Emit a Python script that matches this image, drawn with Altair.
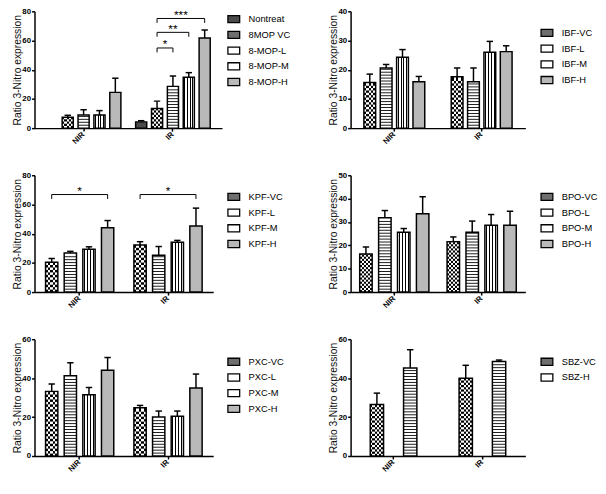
import altair as alt
import pandas as pd

FONT = "Liberation Sans"
CONDS = ["NIR", "IR"]
YTITLE = "Ratio 3-Nitro expression"

# ---- panel 1 : 8-MOP ----
mop_groups = ["Nontreat", "8MOP VC", "8-MOP-L", "8-MOP-M", "8-MOP-H"]
mop_patterns = ["cross", "checker", "hline", "vline", "diag"]
mop_nir = [None, 7.5, 9.0, 9.0, 24.5]
mop_nir_err = [None, 1.3, 3.6, 3.0, 9.7]
mop_ir = [4.3, 13.5, 28.6, 34.8, 61.8]
mop_ir_err = [0.8, 5.0, 7.1, 3.2, 5.4]
mop_sig_cond = ["IR", "IR", "IR"]
mop_sig_from = ["8MOP VC", "8MOP VC", "8MOP VC"]
mop_sig_to = ["8-MOP-L", "8-MOP-M", "8-MOP-H"]
mop_sig_y = [54.9, 65.6, 75.1]
mop_sig_label = ["*", "**", "***"]

# ---- panel 2 : IBF ----
ibf_groups = ["IBF-VC", "IBF-L", "IBF-M", "IBF-H"]
ibf_nir = [15.6, 20.6, 24.3, 15.9]
ibf_nir_err = [2.9, 1.2, 2.6, 1.8]
ibf_ir = [17.6, 15.9, 26.0, 26.2]
ibf_ir_err = [3.0, 4.7, 3.7, 2.0]

# ---- panel 3 : KPF ----
kpf_groups = ["KPF-VC", "KPF-L", "KPF-M", "KPF-H"]
kpf_nir = [20.5, 26.7, 29.4, 44.1]
kpf_nir_err = [2.5, 1.2, 1.6, 4.9]
kpf_ir = [32.3, 25.2, 34.1, 45.2]
kpf_ir_err = [2.2, 6.0, 1.3, 12.3]
kpf_sig_cond = ["NIR", "IR"]
kpf_sig_from = ["KPF-VC", "KPF-VC"]
kpf_sig_to = ["KPF-H", "KPF-H"]
kpf_sig_y = [66.8, 66.8]
kpf_sig_label = ["*", "*"]

# ---- panel 4 : BPO ----
bpo_groups = ["BPO-VC", "BPO-L", "BPO-M", "BPO-H"]
bpo_nir = [16.3, 31.8, 25.6, 33.5]
bpo_nir_err = [3.0, 3.1, 1.6, 7.3]
bpo_ir = [21.6, 25.6, 28.6, 28.6]
bpo_ir_err = [2.0, 4.8, 4.6, 6.0]

# ---- panel 5 : PXC ----
pxc_groups = ["PXC-VC", "PXC-L", "PXC-M", "PXC-H"]
pxc_nir = [33.2, 41.2, 31.5, 44.1]
pxc_nir_err = [3.8, 6.7, 3.7, 6.5]
pxc_ir = [24.8, 20.1, 20.4, 34.9]
pxc_ir_err = [1.2, 3.0, 2.7, 7.2]

# ---- panel 6 : SBZ ----
sbz_groups = ["SBZ-VC", "SBZ-H"]
sbz_patterns = ["checker", "hline"]
sbz_nir = [26.5, 45.2]
sbz_nir_err = [5.8, 9.4]
sbz_ir = [39.9, 48.6]
sbz_ir_err = [6.7, 0.7]

four_patterns = ["checker", "hline", "vline", "diag"]

FLAT = {"cross": "#4a4a4a", "checker": "#6e6e6e", "hline": "#ffffff",
        "vline": "#ffffff", "diag": "#b9b9b9"}
RECT = "M-1,-0.6H1V0.6H-1Z"


def stripes(n, frac, fg="black", bg="white"):
    stops = [{"offset": 0, "color": bg}]
    for i in range(n):
        c = (i + 0.5) / n
        a, b = round(max(c - frac / 2, 0), 4), round(min(c + frac / 2, 1), 4)
        stops += [{"offset": a, "color": bg}, {"offset": a, "color": fg},
                  {"offset": b, "color": fg}, {"offset": b, "color": bg}]
    stops.append({"offset": 1, "color": bg})
    return {"gradient": "linear", "x1": 0, "y1": 0, "x2": 1, "y2": 0, "stops": stops}


def checker(n, invert=False):
    stops = []
    for i in range(n):
        col = "black" if ((i % 2 == 0) != invert) else "white"
        stops += [{"offset": round(i / n, 4), "color": col},
                  {"offset": round((i + 1) / n, 4), "color": col}]
    return {"gradient": "linear", "x1": 0, "y1": 0, "x2": 1, "y2": 0, "stops": stops}


def panel(groups, patterns, nir, nir_err, ir, ir_err, ymax, ystep, width,
          pi, po, q, legend_x, legend_y, sig=None, height=119):
    rows = []
    for cond, vals, errs in (("NIR", nir, nir_err), ("IR", ir, ir_err)):
        for g, p, v, e in zip(groups, patterns, vals, errs):
            if v is None:
                continue
            rows.append(dict(cond=cond, group=g, pattern=p, value=v, top=v + e))
    df = pd.DataFrame(rows)

    n = len(groups)
    step = width / (2 - pi + 2 * po)
    band = step * (1 - pi)
    slot = band / (n - q)
    bar_px = slot * (1 - q)
    upx = ymax / height

    xaxis = alt.Axis(title=None, labelAngle=-45, labelAlign="right",
                     labelBaseline="middle", labelPadding=2, tickSize=3)
    yaxis = alt.Axis(title=YTITLE, values=list(range(0, ymax + 1, ystep)),
                     labelPadding=1, titlePadding=-1)
    x = alt.X("cond:N", scale=alt.Scale(domain=CONDS, paddingInner=pi,
                                        paddingOuter=po), axis=xaxis)
    xo = alt.XOffset("group:N", scale=alt.Scale(domain=groups, paddingInner=q,
                                                paddingOuter=0))
    ysc = alt.Scale(domain=[0, ymax], nice=False)

    def Y(f):
        return alt.Y(f, type="quantitative", scale=ysc, axis=yaxis)

    base = alt.Chart(df)
    legend = alt.Legend(
        title=None, orient="none", legendX=legend_x, legendY=legend_y,
        symbolSize=144, symbolType=RECT, padding=0,
        labelFont=FONT, labelFontSize=9.5, labelColor="black", labelOffset=8,
        rowPadding=2, symbolStrokeColor="black", symbolStrokeWidth=1.3,
        symbolOpacity=1,
    )
    fill_scale = alt.Scale(domain=groups, range=[FLAT[p] for p in patterns])
    layers = [base.mark_bar(opacity=1).encode(
        x=x, xOffset=xo, y=Y("value"),
        fill=alt.Fill("group:N", scale=fill_scale, legend=legend))]

    # vertical stripes
    layers.append(base.transform_filter("datum.pattern === 'vline'").mark_bar(
        opacity=1, fill=stripes(4, 1.0 / bar_px)).encode(x=x, xOffset=xo, y=Y("value")))

    # checker board
    ncell = max(4, round(bar_px / 2.3))
    cell_px = bar_px / ncell
    h = cell_px * upx
    layers.append(base.transform_filter("datum.pattern === 'checker'").mark_bar(
        opacity=1, fill=checker(ncell)).encode(x=x, xOffset=xo, y=Y("value")))
    layers.append(
        base.transform_filter("datum.pattern === 'checker'")
        .transform_calculate(rows=f"sequence({1.5 * h}, datum.value - {0.5 * h}, {2 * h})")
        .transform_flatten(["rows"])
        .mark_tick(opacity=1, fill=checker(ncell, invert=True), thickness=cell_px,
                   size=bar_px)
        .encode(x=x, xOffset=xo, y=Y("rows")))

    # horizontal stripes
    s = 3.0 * upx
    layers.append(
        base.transform_filter("datum.pattern === 'hline'")
        .transform_calculate(lines=f"sequence({s}, datum.value - {0.3 * s}, {s})")
        .transform_flatten(["lines"])
        .mark_tick(opacity=1, color="black", thickness=0.9, size=bar_px)
        .encode(x=x, xOffset=xo, y=Y("lines")))

    # outline
    layers.append(base.mark_bar(opacity=1, fillOpacity=0, stroke="black",
                                strokeWidth=1.5).encode(x=x, xOffset=xo, y=Y("value")))
    # error bars
    layers.append(base.mark_rule(opacity=1, color="black", strokeWidth=1.5).encode(
        x=x, xOffset=xo, y=Y("value"), y2="top"))
    layers.append(base.mark_tick(opacity=1, color="black", thickness=1.5,
                                 size=6.5).encode(x=x, xOffset=xo, y=Y("top")))

    if sig:
        drop = 4.5 * upx
        brows = []
        for i, (c, g1, g2, yv, lab) in enumerate(zip(*sig)):
            brows += [dict(bid=i, cond=c, group=g1, yv=yv - drop, ord=0),
                      dict(bid=i, cond=c, group=g1, yv=yv, ord=1),
                      dict(bid=i, cond=c, group=g2, yv=yv, ord=2),
                      dict(bid=i, cond=c, group=g2, yv=yv - drop, ord=3)]
        bdf = pd.DataFrame(brows)
        layers.append(alt.Chart(bdf).mark_line(opacity=1, color="black",
                                               strokeWidth=1).encode(
            x=x, xOffset=xo, y=Y("yv"), order="ord:Q", detail="bid:N"))
        for c, g1, g2, yv, lab in zip(*sig):
            k = groups.index(g2) - groups.index(g1)
            tdf = pd.DataFrame([dict(cond=c, group=g1, yv=yv, label=lab)])
            layers.append(alt.Chart(tdf).mark_text(
                opacity=1, color="black", fontSize=12, baseline="alphabetic",
                align="center", dx=k * slot / 2, dy=0.5).encode(
                x=x, xOffset=xo, y=Y("yv"), text="label:N"))

    return alt.layer(*layers).properties(width=width, height=height)


p1 = panel(mop_groups, mop_patterns, mop_nir, mop_nir_err, mop_ir, mop_ir_err,
           80, 20, 191, 0.165, 0.132, 0.3, 196, 1,
           sig=(mop_sig_cond, mop_sig_from, mop_sig_to, mop_sig_y, mop_sig_label))
p2 = panel(ibf_groups, four_patterns, ibf_nir, ibf_nir_err, ibf_ir, ibf_ir_err,
           40, 10, 178, 0.303, 0.152, 0.28, 193, 15)
p3 = panel(kpf_groups, four_patterns, kpf_nir, kpf_nir_err, kpf_ir, kpf_ir_err,
           80, 20, 182, 0.228, 0.125, 0.34, 196, 15,
           sig=(kpf_sig_cond, kpf_sig_from, kpf_sig_to, kpf_sig_y, kpf_sig_label))
p4 = panel(bpo_groups, four_patterns, bpo_nir, bpo_nir_err, bpo_ir, bpo_ir_err,
           50, 10, 178, 0.208, 0.104, 0.34, 193, 15)
p5 = panel(pxc_groups, four_patterns, pxc_nir, pxc_nir_err, pxc_ir, pxc_ir_err,
           60, 20, 182, 0.228, 0.125, 0.34, 196, 16)
p6 = panel(sbz_groups, sbz_patterns, sbz_nir, sbz_nir_err, sbz_ir, sbz_ir_err,
           60, 20, 178, 0.475, 0.221, 0.6, 193, 16)

chart = (
    alt.concat(p1, p2, p3, p4, p5, p6, columns=2,
               spacing={"row": 26, "column": 39})
    .resolve_scale(x="independent", y="independent", fill="independent",
                   xOffset="independent")
    .properties(padding={"left": 5, "top": -5, "right": 0, "bottom": 0})
    .configure_view(stroke=None)
    .configure_axis(domainColor="black", domainWidth=1.5, tickColor="black",
                    tickWidth=1.5, tickSize=3, labelFont=FONT, labelFontSize=8,
                    labelFontWeight="bold", labelColor="black", titleFont=FONT,
                    titleFontSize=10.5, titleFontWeight="normal",
                    titleColor="#111111", grid=False)
    .configure_text(font=FONT)
)

chart.save("out.html", embed_options={"renderer": "svg", "actions": False})
